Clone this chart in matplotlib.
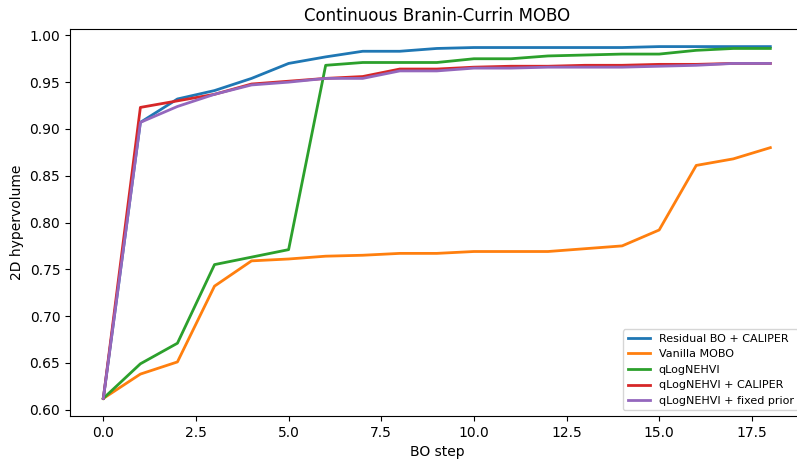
import matplotlib
matplotlib.use("Agg")
import matplotlib.pyplot as plt

# ── data ──
steps = list(range(19))
residual_bo = [0.612, 0.907, 0.932, 0.941, 0.954, 0.970, 0.977, 0.983, 0.983, 0.986,
               0.987, 0.987, 0.987, 0.987, 0.987, 0.988, 0.988, 0.988, 0.988]
vanilla = [0.612, 0.638, 0.651, 0.732, 0.759, 0.761, 0.764, 0.765, 0.767, 0.767,
           0.769, 0.769, 0.769, 0.772, 0.775, 0.792, 0.861, 0.868, 0.880]
qlognehvi = [0.612, 0.649, 0.671, 0.755, 0.763, 0.771, 0.968, 0.971, 0.971, 0.971,
             0.975, 0.975, 0.978, 0.979, 0.980, 0.980, 0.984, 0.986, 0.986]
qlog_caliper = [0.612, 0.923, 0.930, 0.937, 0.948, 0.951, 0.954, 0.956, 0.964, 0.964,
                0.966, 0.967, 0.967, 0.968, 0.968, 0.969, 0.969, 0.970, 0.970]
qlog_fixed = [0.612, 0.907, 0.924, 0.937, 0.947, 0.950, 0.954, 0.954, 0.962, 0.962,
              0.965, 0.965, 0.966, 0.966, 0.966, 0.967, 0.968, 0.970, 0.970]

series = [
    ("Residual BO + CALIPER", residual_bo),
    ("Vanilla MOBO", vanilla),
    ("qLogNEHVI", qlognehvi),
    ("qLogNEHVI + CALIPER", qlog_caliper),
    ("qLogNEHVI + fixed prior", qlog_fixed),
]

# ── plot ──
fig = plt.figure(figsize=(7.97, 4.61), dpi=100)
# the original axes runs slightly past the right edge of the image
ax = fig.add_axes([0.0878, 0.0976, 0.9206, 0.8395])
for name, vals in series:
    ax.plot(steps, vals, linewidth=2, label=name)

ax.set_title("Continuous Branin-Currin MOBO")
ax.set_xlabel("BO step")
ax.set_ylabel("2D hypervolume")
ax.legend(loc="lower right", fontsize=8)

fig.savefig("out.png")
